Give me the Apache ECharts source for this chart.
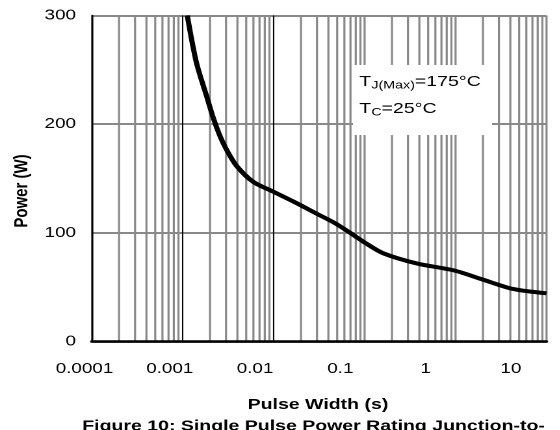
<!DOCTYPE html>
<html>
<head>
<meta charset="utf-8">
<script src="https://cdn.jsdelivr.net/npm/echarts@6/dist/echarts.min.js"></script>
<style>
  html, body { margin: 0; padding: 0; background: #fff; overflow: hidden; }
  #wrap { width: 560px; height: 430px; overflow: hidden; }
  /* the figure is laid out narrow and widened horizontally */
  #chart { width: 431px; height: 430px; transform: scaleX(1.3); transform-origin: 0 0; }
</style>
</head>
<body>
<div id="wrap"><div id="chart"></div></div>
<script>
// Single pulse power rating, junction-to-case
const pulseWidth = [0.001125, 0.001415, 0.001848, 0.002172, 0.002573, 0.003051, 0.003926, 0.005978, 0.00991,
                    0.01644, 0.03097, 0.04732, 0.07278, 0.0969, 0.1607, 0.3741, 0.9683, 2.018, 4.285, 10];
const power      = [300, 257, 225, 205.8, 189.2, 176.3, 161.6, 147, 138,
                    129, 117, 109, 99, 92, 81.3, 72, 65.5, 57, 48.5, 44.5];

const xTickLabels = ['0.0001', '0.001', '0.01', '0.1', '1', '10'];
const yTickValues = [0, 100, 200, 300];

// log grid: 2..9 within each decade, plus the decade lines themselves
const decadeStarts = [0.0001, 0.001, 0.01, 0.1, 1];
const minorSteps = [2, 3, 4, 5, 6, 7, 8, 9];
const grayDecades = [0.1, 1, 10];
const blackDecades = [0.001, 0.01];

const FONT = '"Liberation Sans", Arial, sans-serif';
const GRID_GRAY = '#898989';
const Y_MIN = yTickValues[0];
const Y_MAX = yTickValues[yTickValues.length - 1];

const grayLines = [];
decadeStarts.forEach(d => minorSteps.forEach(m => grayLines.push([d * m, Y_MIN])));
grayDecades.forEach(v => grayLines.push([v, Y_MIN]));

// full-height vertical rule at the item's x value
function verticalRule(color, width) {
  return function (params, api) {
    const v = api.value(0);
    const bottom = api.coord([v, Y_MIN]);
    const top = api.coord([v, Y_MAX]);
    return {
      type: 'line',
      shape: { x1: bottom[0], y1: top[1], x2: bottom[0], y2: bottom[1] },
      style: { stroke: color, lineWidth: width }
    };
  };
}

const chart = echarts.init(document.getElementById('chart'), null, { devicePixelRatio: 2 });

const plot = { left: 70.5, top: 15.5, width: 349.9, height: 326.2 };

chart.setOption({
  animation: false,
  backgroundColor: '#fff',
  grid: [
    { left: plot.left, top: plot.top, width: plot.width, height: plot.height },
    { left: 65, top: plot.top, width: 328, height: plot.height }
  ],
  xAxis: [
    {
      type: 'log', logBase: 10, min: 0.0001, max: 10, gridIndex: 0, z: 3,
      axisLine: { show: true, onZero: false, lineStyle: { color: '#000', width: 2.5 } },
      axisTick: { show: false }, axisLabel: { show: false }, splitLine: { show: false }
    },
    {
      type: 'log', logBase: 10, min: 0.0001, max: 10, gridIndex: 1, splitNumber: 5,
      axisLine: { show: false }, axisTick: { show: false }, splitLine: { show: false },
      axisLabel: {
        show: true, margin: 20, fontSize: 14.5, color: '#000', fontFamily: FONT,
        formatter: v => xTickLabels[Math.round(Math.log10(v)) + 4]
      }
    }
  ],
  yAxis: [
    {
      type: 'value', min: Y_MIN, max: Y_MAX, interval: 100, gridIndex: 0,
      axisLine: { show: true, lineStyle: { color: '#000', width: 1.6 } },
      axisTick: { show: false },
      axisLabel: { margin: 12, fontSize: 14.5, color: '#000', fontFamily: FONT },
      splitLine: { show: true, showMinLine: true, showMaxLine: true, lineStyle: { color: GRID_GRAY, width: 2 } }
    },
    { type: 'value', min: Y_MIN, max: Y_MAX, gridIndex: 1, show: false }
  ],
  series: [
    {
      name: 'grid-gray', type: 'custom', xAxisIndex: 0, yAxisIndex: 0, z: 1, silent: true,
      encode: { x: 0, y: 1 },
      renderItem: verticalRule(GRID_GRAY, 1.6),
      data: grayLines
    },
    {
      name: 'grid-black', type: 'custom', xAxisIndex: 0, yAxisIndex: 0, z: 1, silent: true,
      encode: { x: 0, y: 1 },
      renderItem: verticalRule('#000', 1),
      data: blackDecades.map(v => [v, Y_MIN])
    },
    {
      name: 'Power', type: 'line', xAxisIndex: 0, yAxisIndex: 0, z: 4,
      data: pulseWidth.map((t, i) => [t, power[i]]),
      smooth: 0.3, symbol: 'none', clip: true,
      lineStyle: { color: '#000', width: 4 }
    }
  ],
  graphic: [
    { type: 'rect', z: 10, shape: { x: 271.5, y: 65, width: 107, height: 70 }, style: { fill: '#fff' } },
    {
      type: 'text', z: 11, x: 276.4, y: 72.8,
      style: {
        text: '{t|T}{s|J(Max)}{t|=175°C}', verticalAlign: 'top',
        rich: {
          t: { fontSize: 15, fontFamily: FONT, fill: '#000', lineHeight: 18 },
          s: { fontSize: 11, fontFamily: FONT, fill: '#000', lineHeight: 8, verticalAlign: 'bottom' }
        }
      }
    },
    {
      type: 'text', z: 11, x: 276.4, y: 99.8,
      style: {
        text: '{t|T}{s|C}{t|=25°C}', verticalAlign: 'top',
        rich: {
          t: { fontSize: 15, fontFamily: FONT, fill: '#000', lineHeight: 18 },
          s: { fontSize: 11, fontFamily: FONT, fill: '#000', lineHeight: 8, verticalAlign: 'bottom' }
        }
      }
    },
    {
      type: 'text', x: 16.7, y: 191, rotation: Math.PI / 2,
      style: { text: 'Power (W)', fontSize: 15, fontWeight: 'bold', fontFamily: FONT, fill: '#000',
               align: 'center', verticalAlign: 'middle' }
    },
    {
      type: 'text', x: 244.6, y: 405,
      style: { text: 'Pulse Width (s)', fontSize: 15, fontWeight: 'bold', fontFamily: FONT, fill: '#000',
               align: 'center', verticalAlign: 'middle' }
    },
    {
      type: 'text', x: 241.2, y: 426.5,
      style: { text: 'Figure 10: Single Pulse Power Rating Junction-to-', fontSize: 15, fontWeight: 'bold',
               fontFamily: FONT, fill: '#000', align: 'center', verticalAlign: 'middle' }
    }
  ]
});
</script>
</body>
</html>
